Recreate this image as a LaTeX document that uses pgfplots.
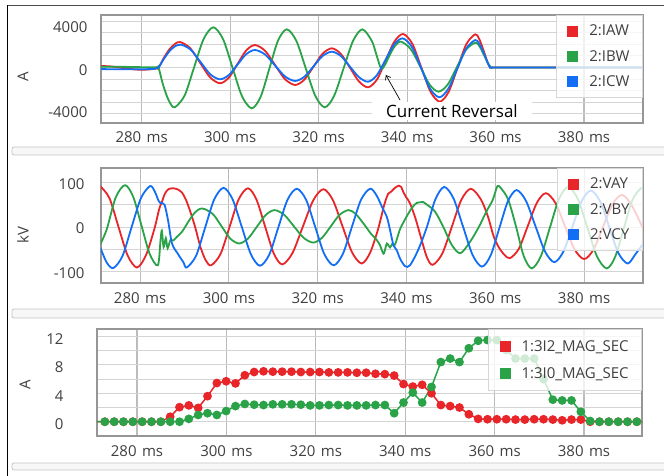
\documentclass[border=0pt]{standalone}
\usepackage{fontspec}
\setmainfont{Open Sans}
\usepackage{pgfplots}
\pgfplotsset{compat=1.18}
\usetikzlibrary{arrows.meta}
\definecolor{cR}{RGB}{232,38,42}
\definecolor{cG}{RGB}{42,163,72}
\definecolor{cB}{RGB}{18,110,245}
\definecolor{gridH}{RGB}{212,212,212}
\definecolor{gridV}{RGB}{188,188,188}
\definecolor{frameC}{RGB}{150,150,150}
\definecolor{txtC}{RGB}{64,64,64}
\definecolor{legC}{RGB}{215,215,215}
\pgfplotsset{
 panel/.style={
  scale only axis, width=542pt,
  axis line style={frameC, line width=1.3pt},
  major tick length=0pt, minor tick length=0pt,
  xtick={280,300,320,340,360,380},
  xticklabels={280\hspace{1.5pt} ms,300\hspace{1.5pt} ms,320\hspace{1.5pt} ms,340\hspace{1.5pt} ms,360\hspace{1.5pt} ms,380\hspace{1.5pt} ms},
  xmajorgrids=true, ymajorgrids=false, yminorgrids=true,
  major grid style={gridV, line width=1.1pt},
  minor grid style={gridH, line width=0.9pt},
  tick label style={font=\fontsize{15}{17}\selectfont, text=txtC},
  legend cell align=left,
  legend image code/.code={\fill[##1, fill opacity=1, draw=none] (0pt,-5.5pt) rectangle (11pt,5.5pt);},
  legend style={at={(1,1)}, anchor=north east, draw=legC, line width=0.8pt, fill=white, fill opacity=0.78, text opacity=1, draw opacity=1, font=\fontsize{15}{17}\selectfont, text=txtC, inner xsep=11pt, inner ysep=7.5pt, row sep=9pt, /tikz/every odd column/.append style={column sep=9pt}},
  every axis plot/.append style={line width=1.8pt},
 }
}
\begin{document}
\begin{tikzpicture}[x=1pt,y=1pt]
\useasboundingbox (0,0) rectangle (664,476);
\fill[white] (0,0) rectangle (664,476);
\draw[gray!45, line width=0.8pt, fill=gray!6, rounded corners=2pt] (12,321) rectangle (668,329);
\draw[gray!45, line width=0.8pt, fill=gray!6, rounded corners=2pt] (12,158) rectangle (668,167);
\draw[gray!45, line width=0.8pt, fill=gray!6, rounded corners=2pt] (12,6) rectangle (668,13);
\draw[black, line width=1.6pt] (7.5,0) -- (7.5,470.5);
\draw[black!70, line width=1.6pt] (7.5,470.5) -- (664,470.5);

% ---------------- TOP: currents
\begin{axis}[panel, at={(101pt,353pt)}, anchor=south west, height=108pt,
  xmin=270.8, xmax=393.34, ymin=-5236, ymax=4953,
  ytick={-4000,0,4000}, yticklabels={-4000,0,4000},
  minor ytick={-4360,-3270,-2180,-1090,0,1090,2180,3270,4360},
  yticklabel style={xshift=-10pt, yshift=-2.5pt},
  xticklabel style={yshift=-5pt},
  ylabel={A},
  every axis y label/.style={at={([xshift=-78pt,yshift=-8pt]rel axis cs:0,0.5)}, rotate=90, anchor=center, font=\fontsize{15}{17}\selectfont, text=txtC},
]
\addplot[cR, smooth, tension=0.5] coordinates {
(270.8,150)(273,100)(275,0)(277,-120)(279,-200)(281,-200)(282.5,-150)(283.5,-80)(283.8,-50)
(285.0,900)(286.25,1700)(287.5,2220)(288.7,2400)
(290.95,1830)(293.2,455)(295.45,-920)(297.7,-1490)
(299.7,-960)(301.65,315)(303.6,1590)(305.6,2120)
(307.9,1570)(310.15,235)(312.4,-1100)(314.7,-1650)
(316.8,-1140)(318.85,80)(320.9,1300)(323.0,1810)
(325.05,1270)(327.1,-30)(329.15,-1330)(331.2,-1870)
(333.2,-1130)(335.15,645)(337.1,2420)(339.1,3160)
(341.2,2225)(343.25,-32)(345.3,-2290)(347.4,-3225)
(349.4,-2290)(351.4,-47)(353.4,2200)(355.4,3130)
(356.3,2700)(357.3,1600)(358.2,500)(358.8,0)(359.5,0)(361,0)(393.3,0)};
\addlegendentry{2:IAW}
\addplot[cG, smooth, tension=0.5] coordinates {
(270.8,80)(276,60)(280,30)(283.4,30)(283.8,20)
(284.7,-1440)(285.65,-2655)(286.6,-3470)(287.5,-3755)
(289.7,-2650)(291.85,17)(294.0,2684)(296.2,3790)
(298.4,2670)(300.55,-30)(302.7,-2730)(304.9,-3850)
(306.9,-2760)(308.85,-125)(310.8,2510)(312.8,3600)
(314.95,2523)(317.1,-77)(319.25,-2677)(321.4,-3755)
(323.5,-2677)(325.65,-77)(327.8,2523)(329.9,3600)
(332.0,2520)(333.0,1300)(333.9,100)(334.4,-100)(335.0,250)(336.0,1100)(337.2,2000)(338.6,2435)
(340.8,1745)(343.0,77)(345.05,-1590)(347.1,-2280)
(349.2,-1605)(351.25,30)(353.3,1660)(355.4,2340)
(356.3,2050)(357.3,1250)(358.3,400)(359.0,0)(359.7,0)(361,0)(393.3,0)};
\addlegendentry{2:IBW}
\addplot[cB, smooth, tension=0.5] coordinates {
(270.8,-150)(275,-170)(280,-170)(283.0,-120)(283.8,0)
(285.0,800)(286.25,1520)(287.5,1990)(288.9,2150)
(291.1,1672)(293.3,517)(295.5,-638)(297.7,-1115)
(299.7,-710)(301.65,267)(303.6,1245)(305.6,1650)
(307.9,1222)(310.15,190)(312.4,-842)(314.7,-1270)
(316.8,-866)(318.85,110)(320.9,1086)(323.0,1490)
(325.05,1075)(327.1,75)(329.15,-925)(331.2,-1340)
(333.15,-740)(335.1,705)(337.05,2150)(339.0,2750)
(341.1,1935)(343.15,-30)(345.2,-1995)(347.3,-2810)
(349.3,-2020)(351.35,-110)(353.4,1800)(355.4,2590)
(356.3,2250)(357.3,1400)(358.2,450)(358.8,0)(359.5,0)(361,0)(393.3,0)};
\addlegendentry{2:ICW}
\node[fill=white, inner xsep=14pt, inner ysep=2.5pt, font=\fontsize{17}{19}\selectfont, text=black] at (axis cs:350.15,-4100) {Current Reversal};
\draw[-{Straight Barb[length=4pt,width=6pt]}, line width=0.7pt, black] (axis cs:338.4,-3065) -- (axis cs:335.2,-707);
\end{axis}

% ---------------- MIDDLE: voltages
\begin{axis}[panel, at={(101pt,193pt)}, anchor=south west, height=115pt,
  xmin=271.2, xmax=393.27, ymin=-125.8, ymax=132.6,
  ytick={-100,0,100}, yticklabels={-100,0,100},
  minor ytick={-100,-50,0,50,100},
  yticklabel style={xshift=-13pt, yshift=-1.5pt},
  xticklabel style={yshift=-6pt},
  ylabel={kV},
  every axis y label/.style={at={([xshift=-78pt,yshift=-9.5pt]rel axis cs:0,0.5)}, rotate=90, anchor=center, font=\fontsize{15}{17}\selectfont, text=txtC},
]
\addplot[cR, smooth, tension=0.5] coordinates {
(271.0,92)(273.1,65)(275.15,0)(277.2,-64)(279.3,-91)
(281.3,-64)(283.2,-5)(284.3,40)(284.9,56)(285.6,75)(286.4,85)(287.5,87)(288.6,84)(289.4,78)
(290.3,62)(291.3,35)(292.4,0)(293.6,-45)(294.8,-75)(296.0,-86)
(298.1,-61)(300.15,0)(302.2,62)(304.3,87)
(306.2,62)(308.15,1.5)(310.1,-59)(312.0,-84)
(314.3,-59)(316.65,0.5)(319.0,60)(321.3,85)
(323.45,60)(325.6,1.5)(327.75,-57)(329.9,-82)
(331.8,-58)(333.6,-5)(335.0,50)(335.9,75)(336.6,80)(337.4,88)(338.3,93)(338.8,90)(339.4,76)
(340.0,66)(340.8,53)(342.0,20)(343.3,-25)(344.6,-68)(345.9,-85)
(348.05,-60)(350.2,0)(352.35,61)(354.5,86)
(356.7,63)(358.3,25)(359.6,-20)(360.7,-44)(362.0,-62)(363.3,-70)
(365.3,-49)(367.35,3)(369.4,55)(371.4,76)
(373.55,54)(375.7,2)(377.85,-50)(380.0,-72)
(382.1,-51)(384.25,0)(386.4,51)(388.5,72)
(390.6,51)(393.5,-8)};
\addlegendentry{2:VAY}
\addplot[cG, smooth, tension=0.5] coordinates {
(271.0,-40)(272.5,-5)(274.5,66)(276.6,94)
(278.45,68)(280.3,4)(282.15,-60)(284.0,-86)
(284.6,-30)(284.9,-8)(285.3,-45)(285.8,-25)(286.2,-48)(286.8,-30)(287.5,-30)(288.3,-22)
(289.5,-10)(291.0,14)(292.3,32)(293.5,41)(294.6,40)
(296.5,28)(298.4,1)(300.3,-26)(302.3,-37)
(304.3,-26)(306.3,0.5)(308.3,27)(310.3,38)
(312.5,27)(314.65,1.5)(316.8,-24)(319.0,-35)
(321.0,-24)(322.95,1.5)(324.9,27)(326.9,38)
(328.5,30)(330.3,8)(332.0,-15)(333.3,-29)(334.0,-40)(334.8,-60)(335.2,-50)(335.6,-37)(336.3,-46)(336.8,-38)(337.4,-40)
(338.5,-6)(339.4,12)(340.4,30)(341.3,44)(342.3,54)(343.8,56)(344.5,51)
(346.4,35)(348.3,0)(350.2,-40)(352.1,-59)
(354.2,-35)(356.3,0)(358.0,35)(359.3,58)(359.8,72)(360.5,92)(361.2,88)
(362.9,62)(364.7,0)(366.4,-65)(368.2,-93)
(370.25,-66)(372.3,-1.5)(374.35,63)(376.4,90)
(378.6,63)(380.75,-1.5)(382.9,-66)(385.1,-93)
(387.0,-67)(388.95,-3)(390.9,61)(392.8,87)(393.5,85)};
\addlegendentry{2:VBY}
\addplot[cB, smooth, tension=0.5] coordinates {
(271.0,-45)(272.5,-80)(274.0,-92)
(276.05,-65)(278.1,0)(280.2,65)(282.25,92)
(283.3,80)(284.2,58)(284.6,54)(285.5,50)(286.3,15)(287.2,-37)(288.5,-60)(289.8,-80)(290.5,-91)
(292.6,-65)(294.65,-1.5)(296.7,62)(298.8,88)
(300.85,62)(302.9,0.5)(304.95,-61)(307.0,-87)
(309.1,-62)(311.15,-0.5)(313.2,61)(315.3,86)
(317.4,61)(319.45,0)(321.5,-61)(323.6,-86)
(325.65,-61)(327.7,0)(329.75,61)(331.8,86)
(333.2,72)(334.5,45)(335.6,22)(336.3,-7)(337.1,-42)(337.8,-52)(338.6,-72)(339.7,-88)(340.8,-86)
(342.7,-50)(344.6,0)(346.5,62)(348.5,90)
(350.6,64)(352.75,0.5)(354.9,-63)(357.0,-89)
(358.95,-64)(360.9,-3)(362.85,58)(364.8,83)
(366.9,59)(369.05,2)(371.2,-55)(373.3,-79)
(375.35,-55)(377.4,1.5)(379.45,58)(381.5,82)
(383.6,58)(385.65,0)(387.7,-58)(389.8,-82)
(391.5,-62)(393.5,-35)};
\addlegendentry{2:VCY}
\end{axis}

% ---------------- BOTTOM: sequence magnitudes
\begin{axis}[panel, at={(97pt,40pt)}, anchor=south west, width=545pt, height=107pt,
  xmin=271.05, xmax=392.97, ymin=-2.01, ymax=13.06,
  ytick={0,4,8,12}, yticklabels={0,4,8,12},
  minor ytick={0,2,4,6,8,10,12},
  yticklabel style={xshift=-30pt, yshift=-2.5pt},
  xticklabel style={yshift=-6pt},
  ylabel={A},
  every axis y label/.style={at={([xshift=-72pt,yshift=-1.8pt]rel axis cs:0,0.5)}, rotate=90, anchor=center, font=\fontsize{15}{17}\selectfont, text=txtC},
  every axis plot/.append style={line width=1.5pt, mark=*, mark size=3.6pt},
  legend style={row sep=10.5pt, inner ysep=9pt},
]
\addplot[cR, mark options={fill=cR, draw=cR}] coordinates {
(270.71,0)(272.80,0)(274.89,0)(276.98,0)(279.06,0)(281.15,0)(283.24,0)(285.33,0)
(287.42,0.7)(289.50,2.05)(291.59,2.3)(293.68,1.95)(295.77,3.6)(297.86,5.45)(299.94,5.7)(302.03,5.4)
(304.12,6.55)(306.21,7.0)(308.30,7.1)(310.38,7.05)(312.47,7.05)(314.56,7.05)(316.65,7.0)(318.74,7.0)
(320.82,7.0)(322.91,6.95)(325.00,6.95)(327.09,6.95)(329.18,6.9)(331.26,6.9)(333.35,6.75)(335.44,6.7)
(337.53,6.5)(339.62,5.3)(341.70,4.95)(343.79,5.2)(345.88,4.0)(347.97,2.35)(350.06,2.2)(352.14,2.0)
(354.23,1.05)(356.32,0.4)(358.41,0.35)(360.50,0.35)(362.58,0.35)(364.67,0.3)(366.76,0.3)(368.85,0.35)
(370.94,0.35)(373.02,0.3)(375.11,0.2)(377.20,0.3)(379.29,0.3)(381.38,0)(383.46,0)(385.55,0)
(387.64,0)(389.73,0)(391.82,0)(393.90,0)};
\addlegendentry{1:3I2\_MAG\_SEC}
\addplot[cG, mark options={fill=cG, draw=cG}] coordinates {
(270.71,0)(272.80,0)(274.89,0)(276.98,0)(279.06,0)(281.15,0)(283.24,0)(285.33,0)
(287.42,0)(289.50,0)(291.59,0.4)(293.68,0.95)(295.77,1.2)(297.86,0.95)(299.94,1.5)(302.03,2.2)
(304.12,2.5)(306.21,2.4)(308.30,2.35)(310.38,2.45)(312.47,2.45)(314.56,2.45)(316.65,2.4)(318.74,2.3)
(320.82,2.3)(322.91,2.35)(325.00,2.35)(327.09,2.3)(329.18,2.3)(331.26,2.3)(333.35,2.35)(335.44,2.35)
(337.53,1.2)(339.62,2.7)(341.70,4.1)(343.79,2.7)(345.88,4.9)(347.97,8.4)(350.06,8.9)(352.14,8.4)
(354.23,10.35)(356.32,11.4)(358.41,11.5)(360.50,11.5)(362.58,10.1)(364.67,8.9)(366.76,8.9)(368.85,8.9)
(370.94,6.0)(373.02,3.1)(375.11,3.0)(377.20,3.0)(379.29,1.4)(381.38,0.1)(383.46,0)(385.55,0)
(387.64,0)(389.73,0)(391.82,0)(393.90,0)};
\addlegendentry{1:3I0\_MAG\_SEC}
\end{axis}
\end{tikzpicture}
\end{document}
